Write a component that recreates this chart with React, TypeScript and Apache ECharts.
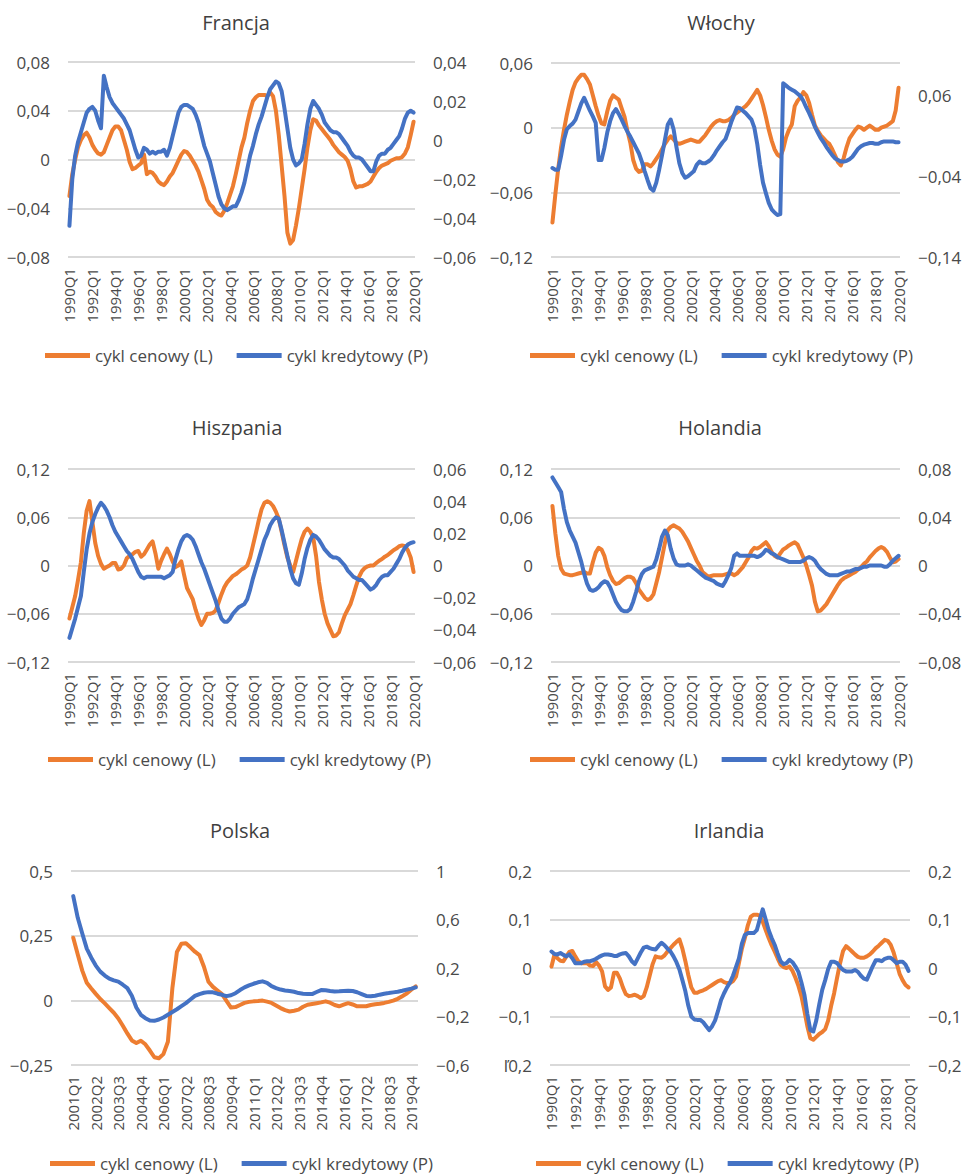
import React, { useEffect, useRef } from "react";
import * as echarts from "echarts";

// Quarter labels such as "1990Q1"
function quarterLabels(startYear: number, startQ: number, count: number): string[] {
  const out: string[] = [];
  let y = startYear;
  let q = startQ;
  for (let i = 0; i < count; i++) {
    out.push(`${y}Q${q}`);
    q++;
    if (q > 4) {
      q = 1;
      y++;
    }
  }
  return out;
}

const quarters1990 = quarterLabels(1990, 1, 121);
const quarters2001 = quarterLabels(2001, 1, 77);

const NAME_CENA = "cykl cenowy (L)";
const NAME_KREDYT = "cykl kredytowy (P)";

// Francja
const francjaCena = [
  -0.030, -0.012, 0.000, 0.010, 0.016, 0.020, 0.022, 0.018, 0.012, 0.008,
  0.005, 0.004, 0.006, 0.012, 0.018, 0.024, 0.027, 0.027, 0.024, 0.016,
  0.008, -0.002, -0.008, -0.007, -0.005, -0.003, 0.004, -0.012, -0.010, -0.011,
  -0.014, -0.018, -0.020, -0.021, -0.018, -0.014, -0.011, -0.006, -0.001, 0.004,
  0.007, 0.006, 0.003, -0.001, -0.005, -0.010, -0.017, -0.024, -0.033, -0.037,
  -0.039, -0.043, -0.045, -0.046, -0.042, -0.036, -0.029, -0.022, -0.012, -0.001,
  0.010, 0.018, 0.030, 0.040, 0.048, 0.051, 0.053, 0.053, 0.053, 0.052,
  0.055, 0.052, 0.040, 0.020, -0.005, -0.030, -0.060, -0.069, -0.066, -0.054,
  -0.040, -0.024, -0.008, 0.010, 0.024, 0.033, 0.032, 0.028, 0.025, 0.022,
  0.019, 0.016, 0.012, 0.009, 0.006, 0.004, 0.002, -0.001, -0.008, -0.018,
  -0.023, -0.022, -0.022, -0.021, -0.020, -0.018, -0.014, -0.010, -0.007, -0.005,
  -0.004, -0.003, -0.001, 0.000, 0.001, 0.001, 0.002, 0.005, 0.010, 0.020,
  0.031,
];
const francjaKredyt = [
  -0.044, -0.020, -0.008, -0.001, 0.004, 0.009, 0.014, 0.016, 0.017, 0.015,
  0.010, 0.006, 0.033, 0.027, 0.022, 0.019, 0.017, 0.015, 0.013, 0.011,
  0.008, 0.005, 0.000, -0.005, -0.009, -0.008, -0.004, -0.005, -0.007, -0.006,
  -0.007, -0.006, -0.006, -0.005, -0.008, -0.004, 0.002, 0.008, 0.014, 0.017,
  0.018, 0.018, 0.017, 0.016, 0.013, 0.009, 0.003, -0.003, -0.007, -0.011,
  -0.017, -0.023, -0.029, -0.033, -0.035, -0.036, -0.035, -0.034, -0.034, -0.031,
  -0.027, -0.022, -0.015, -0.008, -0.003, 0.003, 0.008, 0.012, 0.017, 0.022,
  0.026, 0.028, 0.030, 0.029, 0.025, 0.016, 0.006, -0.004, -0.010, -0.013,
  -0.012, -0.010, -0.002, 0.008, 0.016, 0.020, 0.018, 0.016, 0.013, 0.009,
  0.007, 0.005, 0.004, 0.004, 0.003, 0.001, -0.001, -0.003, -0.006, -0.008,
  -0.009, -0.009, -0.010, -0.012, -0.014, -0.016, -0.016, -0.011, -0.008, -0.007,
  -0.007, -0.005, -0.004, -0.002, 0.000, 0.002, 0.006, 0.011, 0.014, 0.015,
  0.014,
];

// Włochy
const wlochyCena = [
  -0.088, -0.062, -0.038, -0.018, -0.002, 0.012, 0.024, 0.035, 0.042, 0.046,
  0.049, 0.049, 0.045, 0.040, 0.030, 0.020, 0.011, 0.004, 0.003, 0.015,
  0.025, 0.030, 0.028, 0.026, 0.018, 0.010, -0.003, -0.014, -0.030, -0.038,
  -0.041, -0.040, -0.034, -0.034, -0.036, -0.033, -0.029, -0.025, -0.020, -0.015,
  -0.011, -0.008, -0.011, -0.014, -0.015, -0.014, -0.013, -0.012, -0.011, -0.012,
  -0.013, -0.013, -0.010, -0.007, -0.003, 0.001, 0.004, 0.006, 0.007, 0.006,
  0.006, 0.007, 0.009, 0.012, 0.014, 0.016, 0.018, 0.020, 0.023, 0.027,
  0.031, 0.035, 0.030, 0.021, 0.010, -0.002, -0.012, -0.020, -0.025, -0.027,
  -0.020, -0.009, -0.002, 0.003, 0.020, 0.025, 0.028, 0.033, 0.030, 0.023,
  0.012, 0.002, -0.003, -0.007, -0.010, -0.013, -0.015, -0.020, -0.026, -0.032,
  -0.035, -0.028, -0.018, -0.010, -0.006, -0.002, 0.001, 0.000, -0.002, 0.000,
  0.002, 0.000, -0.002, -0.002, 0.000, 0.001, 0.002, 0.004, 0.006, 0.016,
  0.037,
];
const wlochyKredyt = [
  -0.030, -0.032, -0.032, -0.015, 0.005, 0.018, 0.022, 0.025, 0.030, 0.040,
  0.050, 0.057, 0.049, 0.041, 0.034, 0.026, -0.020, -0.020, -0.005, 0.014,
  0.028, 0.038, 0.043, 0.037, 0.030, 0.022, 0.015, 0.009, 0.002, -0.005,
  -0.012, -0.022, -0.034, -0.045, -0.055, -0.058, -0.048, -0.032, -0.014, 0.005,
  0.024, 0.030, 0.018, -0.004, -0.024, -0.036, -0.042, -0.040, -0.037, -0.034,
  -0.026, -0.022, -0.024, -0.024, -0.022, -0.019, -0.014, -0.008, -0.003, 0.002,
  0.006, 0.016, 0.027, 0.036, 0.045, 0.044, 0.041, 0.038, 0.034, 0.030,
  0.020, 0.000, -0.026, -0.048, -0.061, -0.073, -0.081, -0.085, -0.088, -0.087,
  0.075, 0.072, 0.069, 0.067, 0.065, 0.062, 0.059, 0.053, 0.045, 0.038,
  0.030, 0.021, 0.014, 0.007, 0.002, -0.004, -0.009, -0.014, -0.018, -0.020,
  -0.022, -0.022, -0.021, -0.019, -0.016, -0.011, -0.006, -0.003, -0.001, 0.000,
  0.001, 0.001, 0.000, 0.000, 0.002, 0.003, 0.003, 0.003, 0.003, 0.002,
  0.002,
];

// Hiszpania
const hiszpaniaCena = [
  -0.066, -0.052, -0.038, -0.018, 0.004, 0.040, 0.068, 0.080, 0.054, 0.028,
  0.012, 0.002, -0.004, -0.002, 0.000, 0.003, 0.003, -0.005, -0.004, 0.000,
  0.009, 0.012, 0.014, 0.017, 0.018, 0.011, 0.014, 0.020, 0.026, 0.030,
  0.015, -0.004, 0.006, 0.014, 0.021, 0.014, 0.005, -0.002, 0.000, 0.005,
  -0.012, -0.028, -0.035, -0.042, -0.055, -0.066, -0.074, -0.068, -0.060, -0.060,
  -0.059, -0.056, -0.046, -0.036, -0.027, -0.021, -0.017, -0.013, -0.011, -0.008,
  -0.005, -0.003, 0.000, 0.010, 0.025, 0.040, 0.056, 0.070, 0.078, 0.080,
  0.078, 0.074, 0.067, 0.058, 0.042, 0.025, 0.010, 0.000, -0.008, 0.006,
  0.020, 0.033, 0.042, 0.046, 0.042, 0.035, 0.012, -0.020, -0.042, -0.060,
  -0.072, -0.080, -0.088, -0.087, -0.083, -0.072, -0.062, -0.055, -0.048, -0.037,
  -0.025, -0.014, -0.007, -0.003, -0.001, 0.000, 0.000, 0.003, 0.006, 0.008,
  0.011, 0.013, 0.016, 0.019, 0.021, 0.024, 0.025, 0.024, 0.019, 0.010,
  -0.008,
];
const hiszpaniaKredyt = [
  -0.045, -0.039, -0.033, -0.026, -0.019, -0.004, 0.010, 0.020, 0.027, 0.032,
  0.036, 0.039, 0.037, 0.034, 0.030, 0.025, 0.021, 0.018, 0.015, 0.012,
  0.009, 0.007, 0.004, 0.000, -0.004, -0.007, -0.008, -0.007, -0.007, -0.007,
  -0.007, -0.007, -0.007, -0.008, -0.007, -0.006, -0.004, 0.004, 0.010, 0.015,
  0.018, 0.019, 0.018, 0.016, 0.012, 0.007, 0.002, -0.002, -0.007, -0.012,
  -0.017, -0.022, -0.028, -0.033, -0.035, -0.035, -0.033, -0.030, -0.028, -0.026,
  -0.025, -0.024, -0.021, -0.015, -0.008, -0.002, 0.004, 0.010, 0.016, 0.020,
  0.025, 0.028, 0.030, 0.029, 0.022, 0.014, 0.006, -0.002, -0.008, -0.011,
  -0.012, -0.005, 0.004, 0.011, 0.016, 0.019, 0.018, 0.016, 0.013, 0.010,
  0.008, 0.006, 0.005, 0.005, 0.004, 0.002, 0.000, -0.003, -0.005, -0.007,
  -0.008, -0.009, -0.009, -0.011, -0.013, -0.015, -0.014, -0.012, -0.009, -0.007,
  -0.006, -0.006, -0.004, -0.002, 0.001, 0.004, 0.008, 0.011, 0.013, 0.014,
  0.0145,
];

// Holandia
const holandiaCena = [
  0.074, 0.040, 0.012, -0.004, -0.010, -0.011, -0.012, -0.012, -0.011, -0.010,
  -0.009, -0.008, -0.010, -0.010, 0.004, 0.016, 0.022, 0.020, 0.012, -0.002,
  -0.012, -0.019, -0.023, -0.022, -0.019, -0.016, -0.014, -0.014, -0.016, -0.022,
  -0.030, -0.035, -0.040, -0.043, -0.041, -0.036, -0.022, -0.008, 0.010, 0.028,
  0.044, 0.048, 0.050, 0.048, 0.046, 0.042, 0.036, 0.030, 0.022, 0.014,
  0.006, 0.000, -0.008, -0.011, -0.014, -0.013, -0.012, -0.012, -0.012, -0.012,
  -0.011, -0.010, -0.010, -0.012, -0.010, -0.006, -0.002, 0.004, 0.010, 0.018,
  0.022, 0.021, 0.023, 0.026, 0.029, 0.024, 0.017, 0.012, 0.010, 0.015,
  0.020, 0.022, 0.025, 0.027, 0.029, 0.026, 0.018, 0.010, 0.000, -0.012,
  -0.025, -0.045, -0.057, -0.056, -0.052, -0.048, -0.042, -0.036, -0.030, -0.024,
  -0.019, -0.016, -0.014, -0.012, -0.010, -0.008, -0.005, -0.002, 0.002, 0.005,
  0.010, 0.014, 0.018, 0.021, 0.023, 0.021, 0.017, 0.010, 0.004, 0.005,
  0.008,
];
const holandiaKredyt = [
  0.073, 0.069, 0.065, 0.061, 0.047, 0.036, 0.029, 0.024, 0.019, 0.011,
  0.003, -0.007, -0.015, -0.020, -0.021, -0.020, -0.018, -0.015, -0.013, -0.014,
  -0.018, -0.024, -0.030, -0.034, -0.037, -0.038, -0.038, -0.036, -0.030, -0.022,
  -0.013, -0.007, -0.004, -0.003, -0.002, -0.001, 0.005, 0.014, 0.024, 0.029,
  0.025, 0.014, 0.006, 0.001, 0.000, 0.000, 0.000, 0.001, 0.000, -0.002,
  -0.004, -0.006, -0.008, -0.010, -0.011, -0.012, -0.013, -0.015, -0.016, -0.017,
  -0.013, -0.008, -0.002, 0.008, 0.010, 0.008, 0.008, 0.008, 0.008, 0.008,
  0.008, 0.007, 0.008, 0.010, 0.013, 0.012, 0.010, 0.009, 0.007, 0.006,
  0.005, 0.004, 0.003, 0.003, 0.003, 0.003, 0.003, 0.004, 0.006, 0.007,
  0.006, 0.004, 0.000, -0.003, -0.005, -0.007, -0.008, -0.008, -0.008, -0.008,
  -0.007, -0.006, -0.005, -0.005, -0.004, -0.003, -0.003, -0.002, -0.001, -0.001,
  0.000, 0.000, 0.000, 0.000, 0.000, -0.001, -0.001, 0.001, 0.004, 0.006,
  0.008,
];

// Polska
const polskaCena = [
  0.242, 0.177, 0.115, 0.068, 0.046, 0.025, 0.005, -0.012, -0.030, -0.048,
  -0.070, -0.098, -0.128, -0.155, -0.165, -0.156, -0.170, -0.194, -0.220, -0.224,
  -0.208, -0.160, 0.048, 0.187, 0.219, 0.221, 0.205, 0.188, 0.175, 0.130,
  0.072, 0.052, 0.038, 0.024, -0.002, -0.028, -0.026, -0.018, -0.010, -0.006,
  -0.004, -0.003, -0.001, -0.005, -0.010, -0.020, -0.030, -0.038, -0.043, -0.040,
  -0.036, -0.025, -0.017, -0.014, -0.011, -0.008, -0.004, -0.009, -0.018, -0.023,
  -0.017, -0.011, -0.016, -0.023, -0.023, -0.023, -0.018, -0.015, -0.013, -0.010,
  -0.006, -0.001, 0.006, 0.016, 0.026, 0.041, 0.054,
];
const polskaKredyt = [
  0.793, 0.614, 0.485, 0.360, 0.285, 0.220, 0.170, 0.138, 0.112, 0.098,
  0.088, 0.062, 0.034, -0.029, -0.126, -0.186, -0.214, -0.233, -0.236, -0.225,
  -0.208, -0.185, -0.163, -0.140, -0.115, -0.090, -0.060, -0.030, -0.015, -0.004,
  0.001, -0.001, -0.012, -0.021, -0.032, -0.025, -0.008, 0.018, 0.040, 0.056,
  0.070, 0.082, 0.090, 0.078, 0.050, 0.034, 0.022, 0.015, 0.010, 0.004,
  -0.007, -0.012, -0.015, -0.015, 0.002, 0.018, 0.016, 0.010, 0.007, 0.008,
  0.010, 0.012, 0.010, 0.000, -0.015, -0.030, -0.033, -0.029, -0.020, -0.012,
  -0.007, -0.001, 0.004, 0.012, 0.022, 0.030, 0.040,
];

// Irlandia
const irlandiaCena = [
  0.003, 0.028, 0.020, 0.015, 0.014, 0.024, 0.033, 0.035, 0.024, 0.014,
  0.010, 0.010, 0.010, 0.005, 0.004, 0.012, 0.005, -0.007, -0.038, -0.045,
  -0.040, -0.010, -0.010, -0.022, -0.040, -0.054, -0.058, -0.057, -0.055, -0.058,
  -0.062, -0.058, -0.040, -0.016, 0.008, 0.024, 0.022, 0.021, 0.026, 0.034,
  0.041, 0.048, 0.054, 0.059, 0.040, 0.014, -0.015, -0.040, -0.051, -0.051,
  -0.048, -0.046, -0.043, -0.039, -0.035, -0.031, -0.027, -0.025, -0.029, -0.031,
  -0.031, -0.027, -0.018, 0.010, 0.040, 0.062, 0.088, 0.106, 0.110, 0.110,
  0.108, 0.095, 0.078, 0.062, 0.047, 0.034, 0.020, 0.007, 0.002, 0.000,
  0.003, -0.006, -0.020, -0.037, -0.058, -0.088, -0.120, -0.145, -0.148, -0.142,
  -0.136, -0.132, -0.126, -0.108, -0.078, -0.052, -0.020, 0.010, 0.035, 0.045,
  0.040, 0.034, 0.028, 0.023, 0.021, 0.021, 0.024, 0.028, 0.034, 0.041,
  0.046, 0.052, 0.058, 0.056, 0.048, 0.032, 0.010, -0.012, -0.025, -0.035,
  -0.040,
];
const irlandiaKredyt = [
  0.034, 0.029, 0.028, 0.031, 0.027, 0.024, 0.028, 0.020, 0.010, 0.010,
  0.010, 0.013, 0.014, 0.014, 0.016, 0.019, 0.023, 0.026, 0.028, 0.028,
  0.027, 0.025, 0.025, 0.028, 0.030, 0.031, 0.024, 0.014, 0.008, 0.020,
  0.032, 0.042, 0.044, 0.041, 0.039, 0.038, 0.046, 0.052, 0.047, 0.040,
  0.034, 0.024, 0.012, -0.003, -0.025, -0.048, -0.078, -0.100, -0.106, -0.107,
  -0.107, -0.112, -0.120, -0.128, -0.120, -0.108, -0.088, -0.066, -0.052, -0.040,
  -0.030, -0.016, 0.002, 0.020, 0.050, 0.068, 0.072, 0.072, 0.072, 0.078,
  0.100, 0.121, 0.100, 0.078, 0.062, 0.048, 0.030, 0.014, 0.008, 0.010,
  0.017, 0.012, 0.003, -0.008, -0.030, -0.055, -0.095, -0.128, -0.131, -0.108,
  -0.075, -0.045, -0.025, -0.002, 0.013, 0.013, 0.010, 0.002, -0.004, -0.007,
  -0.007, -0.007, -0.004, -0.008, -0.016, -0.022, -0.024, -0.010, 0.004, 0.016,
  0.016, 0.014, 0.019, 0.021, 0.021, 0.016, 0.010, 0.013, 0.013, 0.007,
  -0.006,
];

const ORANGE = "#ED7D31";
const BLUE = "#4472C4";
const TEXT = "#4a4a4a";
const GRID_LINE = "#d9d9d9";
const FONT = "'Open Sans', 'Noto Sans', sans-serif";

type Range = { min: number; max: number; interval: number };
type Panel = {
  title: string;
  categories: string[];
  cena: number[];
  kredyt: number[];
  left: Range;
  right: Range;
  labelEvery: number;
  grid: { left: number; top: number; width: number; height: number };
  titleAt: [number, number];
  legendAt: [number, number];
  leftLabels?: Record<string, string>;
};

const panels: Panel[] = [
  {
    title: "Francja",
    categories: quarters1990,
    cena: francjaCena,
    kredyt: francjaKredyt,
    left: { min: -0.08, max: 0.08, interval: 0.04 },
    right: { min: -0.06, max: 0.04, interval: 0.02 },
    labelEvery: 8,
    grid: { left: 68, top: 62, width: 347, height: 195 },
    titleAt: [236, 12],
    legendAt: [45, 347],
  },
  {
    title: "Włochy",
    categories: quarters1990,
    cena: wlochyCena,
    kredyt: wlochyKredyt,
    left: { min: -0.12, max: 0.06, interval: 0.06 },
    right: { min: -0.14, max: 0.1, interval: 0.1 },
    labelEvery: 8,
    grid: { left: 551, top: 63, width: 349, height: 194 },
    titleAt: [721, 12],
    legendAt: [530, 347],
  },
  {
    title: "Hiszpania",
    categories: quarters1990,
    cena: hiszpaniaCena,
    kredyt: hiszpaniaKredyt,
    left: { min: -0.12, max: 0.12, interval: 0.06 },
    right: { min: -0.06, max: 0.06, interval: 0.02 },
    labelEvery: 8,
    grid: { left: 68, top: 469, width: 347, height: 193 },
    titleAt: [237, 417],
    legendAt: [48, 751],
  },
  {
    title: "Holandia",
    categories: quarters1990,
    cena: holandiaCena,
    kredyt: holandiaKredyt,
    left: { min: -0.12, max: 0.12, interval: 0.06 },
    right: { min: -0.08, max: 0.08, interval: 0.04 },
    labelEvery: 8,
    grid: { left: 551, top: 469, width: 349, height: 193 },
    titleAt: [720, 417],
    legendAt: [530, 751],
  },
  {
    title: "Polska",
    categories: quarters2001,
    cena: polskaCena,
    kredyt: polskaKredyt,
    left: { min: -0.25, max: 0.5, interval: 0.25 },
    right: { min: -0.6, max: 1, interval: 0.4 },
    labelEvery: 5,
    grid: { left: 71, top: 871, width: 347, height: 194 },
    titleAt: [240, 820],
    legendAt: [50, 1155],
  },
  {
    title: "Irlandia",
    categories: quarters1990,
    cena: irlandiaCena,
    kredyt: irlandiaKredyt,
    left: { min: -0.2, max: 0.2, interval: 0.1 },
    right: { min: -0.2, max: 0.2, interval: 0.1 },
    labelEvery: 8,
    grid: { left: 550, top: 871, width: 360, height: 194 },
    titleAt: [729, 820],
    legendAt: [536, 1155],
    leftLabels: { "-0.2": "ľ0,2" },
  },
];

// Polish number format: decimal comma and a typographic minus
function formatTick(v: number): string {
  const s = String(Number(v.toFixed(4)));
  return s.replace("-", "\u2212").replace(".", ",");
}

// The right axis shows its max label only when max sits on the tick grid
function maxOnGrid(r: Range): boolean {
  const steps = (r.max - r.min) / r.interval;
  return Math.abs(steps - Math.round(steps)) < 1e-6;
}

function buildOption() {
  const grids: any[] = [];
  const xAxes: any[] = [];
  const yAxes: any[] = [];
  const series: any[] = [];
  const titles: any[] = [];
  const legends: any[] = [];

  panels.forEach((p, k) => {
    grids.push({ ...p.grid, containLabel: false, outerBoundsMode: "none" });

    xAxes.push({
      type: "category",
      gridIndex: k,
      data: p.categories,
      boundaryGap: true,
      axisLine: { show: false, onZero: false },
      axisTick: { show: false },
      splitLine: { show: false },
      axisLabel: {
        interval: p.labelEvery - 1,
        rotate: 90,
        margin: 11,
        fontSize: 15,
        color: TEXT,
        fontFamily: FONT,
      },
    });

    const leftMap = p.leftLabels || {};
    yAxes.push({
      type: "value",
      gridIndex: k,
      position: "left",
      min: p.left.min,
      max: p.left.max,
      interval: p.left.interval,
      axisLine: { show: false },
      axisTick: { show: false },
      splitLine: { show: true, lineStyle: { color: GRID_LINE, width: 1.8 } },
      axisLabel: {
        margin: 18,
        fontSize: 17,
        color: TEXT,
        fontFamily: FONT,
        formatter: (v: number) => {
          const key = String(Number(v.toFixed(4)));
          return leftMap[key] ?? formatTick(v);
        },
      },
    });
    yAxes.push({
      type: "value",
      gridIndex: k,
      position: "right",
      min: p.right.min,
      max: p.right.max,
      interval: p.right.interval,
      axisLine: { show: false },
      axisTick: { show: false },
      splitLine: { show: false },
      axisLabel: {
        margin: 18,
        fontSize: 17,
        color: TEXT,
        fontFamily: FONT,
        align: "left",
        showMaxLabel: maxOnGrid(p.right),
        formatter: (v: number) => formatTick(v),
      },
    });

    series.push({
      type: "line",
      name: NAME_CENA,
      xAxisIndex: k,
      yAxisIndex: 2 * k,
      data: p.cena,
      showSymbol: false,
      symbol: "none",
      lineStyle: { width: 4, color: ORANGE, join: "round", cap: "round" },
      itemStyle: { color: ORANGE },
      emphasis: { disabled: true },
    });
    series.push({
      type: "line",
      name: NAME_KREDYT,
      xAxisIndex: k,
      yAxisIndex: 2 * k + 1,
      data: p.kredyt,
      showSymbol: false,
      symbol: "none",
      lineStyle: { width: 4, color: BLUE, join: "round", cap: "round" },
      itemStyle: { color: BLUE },
      emphasis: { disabled: true },
    });

    titles.push({
      text: p.title,
      left: p.titleAt[0],
      top: p.titleAt[1],
      textAlign: "center",
      padding: 0,
      textStyle: { fontSize: 20, fontWeight: "normal", color: "#3f3f3f", fontFamily: FONT },
    });

    legends.push({
      left: p.legendAt[0],
      top: p.legendAt[1],
      padding: 0,
      orient: "horizontal",
      icon: "rect",
      itemWidth: 45,
      itemHeight: 5,
      itemGap: 24,
      selectedMode: false,
      data: [NAME_CENA, NAME_KREDYT],
      textStyle: { fontSize: 17, color: TEXT, fontFamily: FONT },
    });
  });

  return {
    animation: false,
    backgroundColor: "#ffffff",
    title: titles,
    legend: legends,
    grid: grids,
    xAxis: xAxes,
    yAxis: yAxes,
    series,
  };
}

// The canvas runs a little past the visible frame, so the right-hand
// tick labels of the second column are trimmed at the frame edge.
const FRAME_W = 966;
const FRAME_H = 1176;
const CANVAS_W = 1010;

export default function App() {
  const ref = useRef<HTMLDivElement>(null);

  useEffect(() => {
    if (!ref.current) return;
    const chart = echarts.init(ref.current, undefined, { renderer: "svg" });
    chart.setOption(buildOption());
    return () => chart.dispose();
  }, []);

  return (
    <div
      style={{
        position: "absolute",
        left: 0,
        top: 0,
        width: FRAME_W,
        height: FRAME_H,
        overflow: "hidden",
        background: "#fff",
      }}
    >
      <div ref={ref} style={{ width: CANVAS_W, height: FRAME_H }} />
    </div>
  );
}
